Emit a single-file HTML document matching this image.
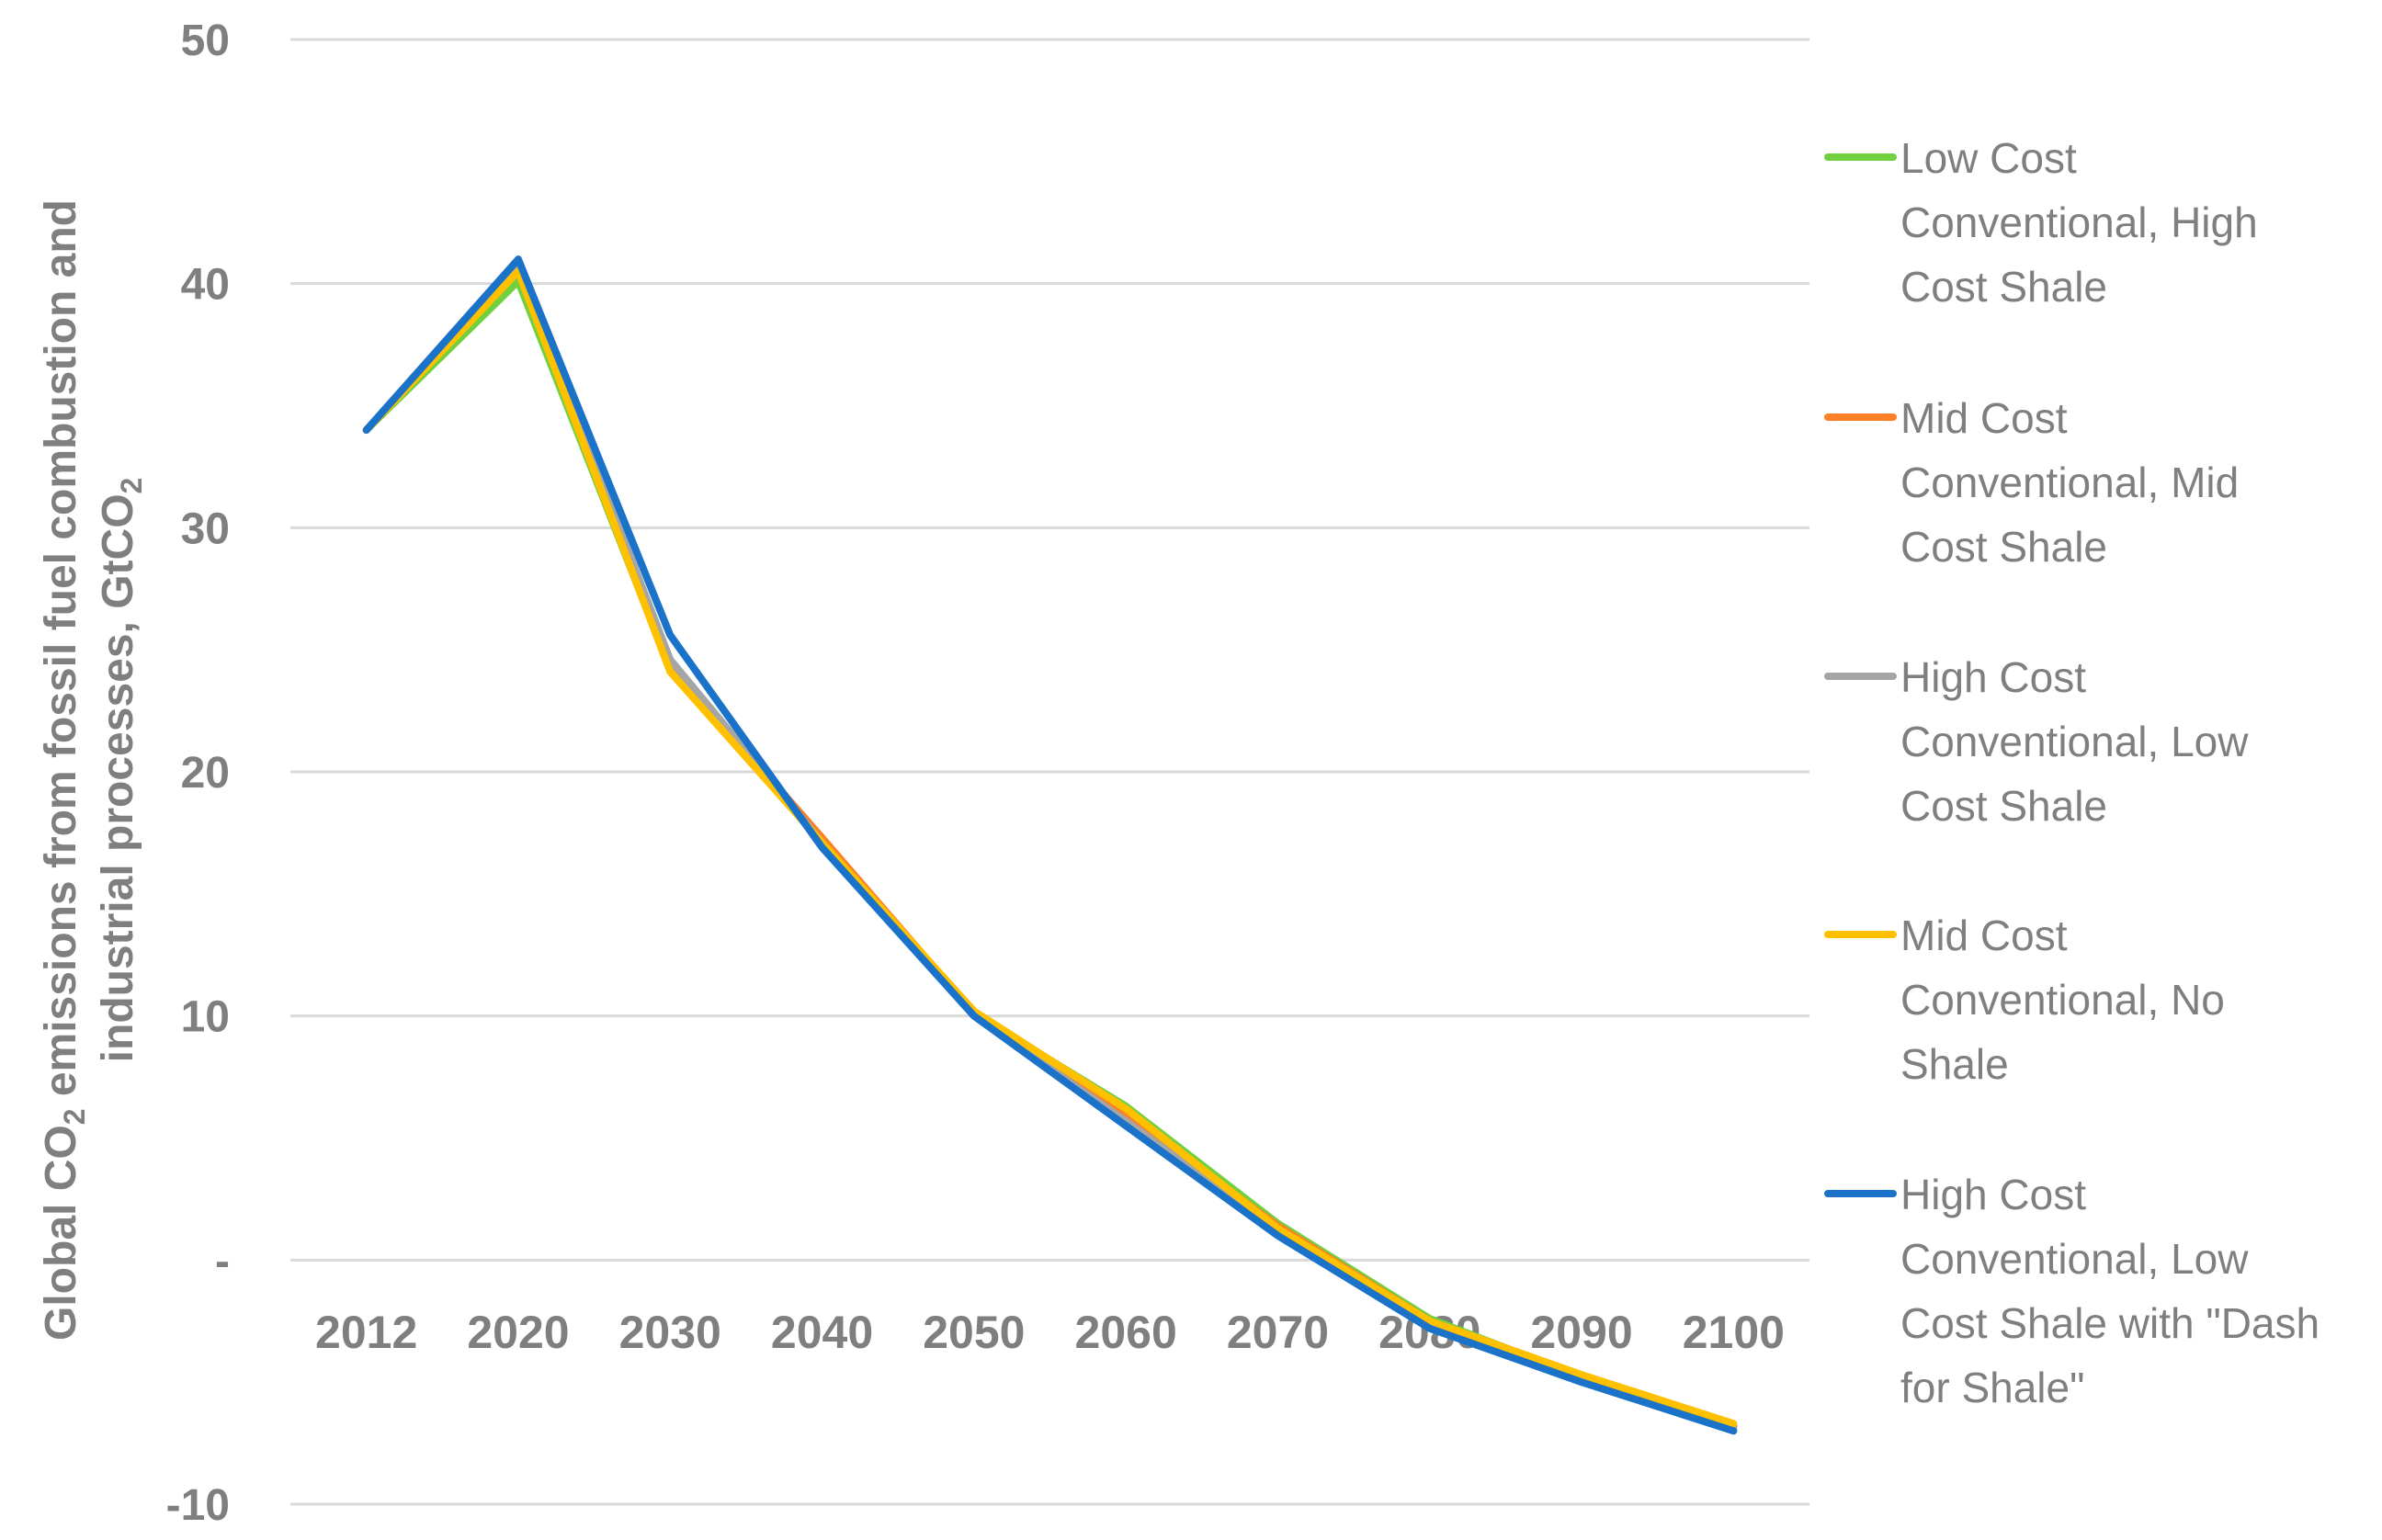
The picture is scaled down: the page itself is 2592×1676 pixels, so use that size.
<!DOCTYPE html>
<html><head><meta charset="utf-8"><style>
html,body{margin:0;padding:0;background:#fff;}
svg{display:block;}
text{font-family:"Liberation Sans",sans-serif;fill:#7f7f7f;}
</style></head><body>
<svg id="chart" width="2592" height="1676" viewBox="0 0 2592 1676" xmlns="http://www.w3.org/2000/svg">
<g id="grid"></g>
<g id="yticks"></g>
<g id="xticks"></g>
<g id="series"></g>
<g id="legend"></g>
<text transform="translate(82,838) rotate(-90)" text-anchor="middle" font-size="48" font-weight="bold">Global CO<tspan font-size="32" dy="10">2</tspan><tspan dy="-10"> emissions from fossil fuel combustion and</tspan></text>
<text transform="translate(144,838) rotate(-90)" text-anchor="middle" font-size="48" font-weight="bold">industrial processes, GtCO<tspan font-size="32" dy="10">2</tspan></text>
</svg>
<script>
const categories = ["2012","2020","2030","2040","2050","2060","2070","2080","2090","2100"];
const yTicks = [50,40,30,20,10,0,-10];
const yTickLabels = ["50","40","30","20","10","-","-10"];
const seriesNames = ["Low Cost Conventional, High Cost Shale","Mid Cost Conventional, Mid Cost Shale","High Cost Conventional, Low Cost Shale","Mid Cost Conventional, No Shale","High Cost Conventional, Low Cost Shale with \"Dash for Shale\""];
const legendLines = [["Low Cost","Conventional, High","Cost Shale"],["Mid Cost","Conventional, Mid","Cost Shale"],["High Cost","Conventional, Low","Cost Shale"],["Mid Cost","Conventional, No","Shale"],["High Cost","Conventional, Low","Cost Shale with \"Dash","for Shale\""]];
const seriesColors = ["#70d040","#ff7f27","#a5a5a5","#ffc000","#1a73c8"];
const lowCostConv = [34,40.1,24.2,17.2,10.1,6.3,1.5,-2.4,-4.8,-6.8];
const midCostConv = [34,40.6,24.4,17.3,10.1,5.9,1.4,-2.5,-4.8,-6.8];
const highCostConv = [34,40.7,24.6,17.1,10.0,5.7,1.2,-2.6,-4.9,-6.9];
const midNoShale = [34,40.5,24.1,17.1,10.2,6.2,1.3,-2.5,-4.7,-6.7];
const dashForShale = [34,41,25.6,16.9,10.0,5.5,1.0,-2.8,-5.0,-7.0];
const seriesValues = [lowCostConv,midCostConv,highCostConv,midNoShale,dashForShale];

const NS="http://www.w3.org/2000/svg";
const plotL=316, plotR=1969, yTop=43, yBot=1637, vMax=50, vMin=-10;
const xScale = i => plotL + (i+0.5)*(plotR-plotL)/categories.length;
const yScale = v => yTop + (vMax-v)/(vMax-vMin)*(yBot-yTop);
function mk(tag,parent){const e=document.createElementNS(NS,tag);document.getElementById(parent).appendChild(e);return e;}

yTicks.forEach((t,i)=>{
  const l=mk('line','grid');
  
  
  l.setAttribute('x1',plotL);l.setAttribute('x2',plotR);
  l.setAttribute('y1',yScale(t));l.setAttribute('y2',yScale(t));
  l.setAttribute('stroke','#d9d9d9');l.setAttribute('stroke-width','3');
  const tx=mk('text','yticks');
  
  
  tx.setAttribute('x',250);tx.setAttribute('y',yScale(t)+17);
  tx.setAttribute('text-anchor','end');tx.setAttribute('font-size','48');tx.setAttribute('font-weight','bold');
  tx.textContent=yTickLabels[i];
});
categories.forEach((c,i)=>{
  const tx=mk('text','xticks');
  
  
  tx.setAttribute('x',xScale(i));tx.setAttribute('y',1467);
  tx.setAttribute('text-anchor','middle');tx.setAttribute('font-size','50');tx.setAttribute('font-weight','bold');
  tx.textContent=c;
});
seriesValues.forEach((vals,s)=>{
  const p=mk('polyline','series');
  
  
  p.setAttribute('points',vals.map((v,i)=>xScale(i)+','+yScale(v)).join(' '));
  p.setAttribute('fill','none');p.setAttribute('stroke',seriesColors[s]);
  p.setAttribute('stroke-width','8');p.setAttribute('stroke-linejoin','round');p.setAttribute('stroke-linecap','round');
});
const legY=[171,454,736,1017,1299];
legendLines.forEach((lines,s)=>{
  const l=mk('line','legend');
  
  
  l.setAttribute('x1',1989);l.setAttribute('x2',2060);l.setAttribute('y1',legY[s]);l.setAttribute('y2',legY[s]);
  l.setAttribute('stroke',seriesColors[s]);l.setAttribute('stroke-width','8');l.setAttribute('stroke-linecap','round');
  lines.forEach((t,j)=>{
    const tx=mk('text','legend');
    
    
    tx.setAttribute('x',2068);tx.setAttribute('y',legY[s]+17+j*70);
    tx.setAttribute('font-size','46');
    tx.textContent=t;
  });
});
</script>
</body></html>
